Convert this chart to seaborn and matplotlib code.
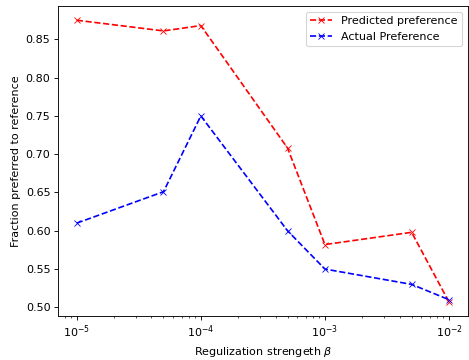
import matplotlib
matplotlib.use("Agg")
import matplotlib.pyplot as plt
import seaborn as sns

beta = [1e-5, 5e-5, 1e-4, 5e-4, 1e-3, 5e-3, 1e-2]
predicted = [0.875, 0.861, 0.868, 0.708, 0.582, 0.598, 0.507]
actual = [0.610, 0.651, 0.750, 0.600, 0.550, 0.530, 0.510]

DPI = 80
fig, ax = plt.subplots(figsize=(469 / DPI, 360 / DPI), dpi=DPI)
sns.lineplot(x=beta, y=predicted, ax=ax, color="red", linestyle="--", marker="x",
             markeredgecolor="red", label="Predicted preference")
sns.lineplot(x=beta, y=actual, ax=ax, color="blue", linestyle="--", marker="x",
             markeredgecolor="blue", label="Actual Preference")
ax.set_xscale("log")
ax.set_xlabel(r"Regulization strengeth $\beta$")
ax.set_ylabel("Fraction preferred to reference")
ax.legend(loc="upper right")
fig.subplots_adjust(left=0.124, right=0.997, top=0.983, bottom=0.122)
fig.savefig("out.png", dpi=DPI)
